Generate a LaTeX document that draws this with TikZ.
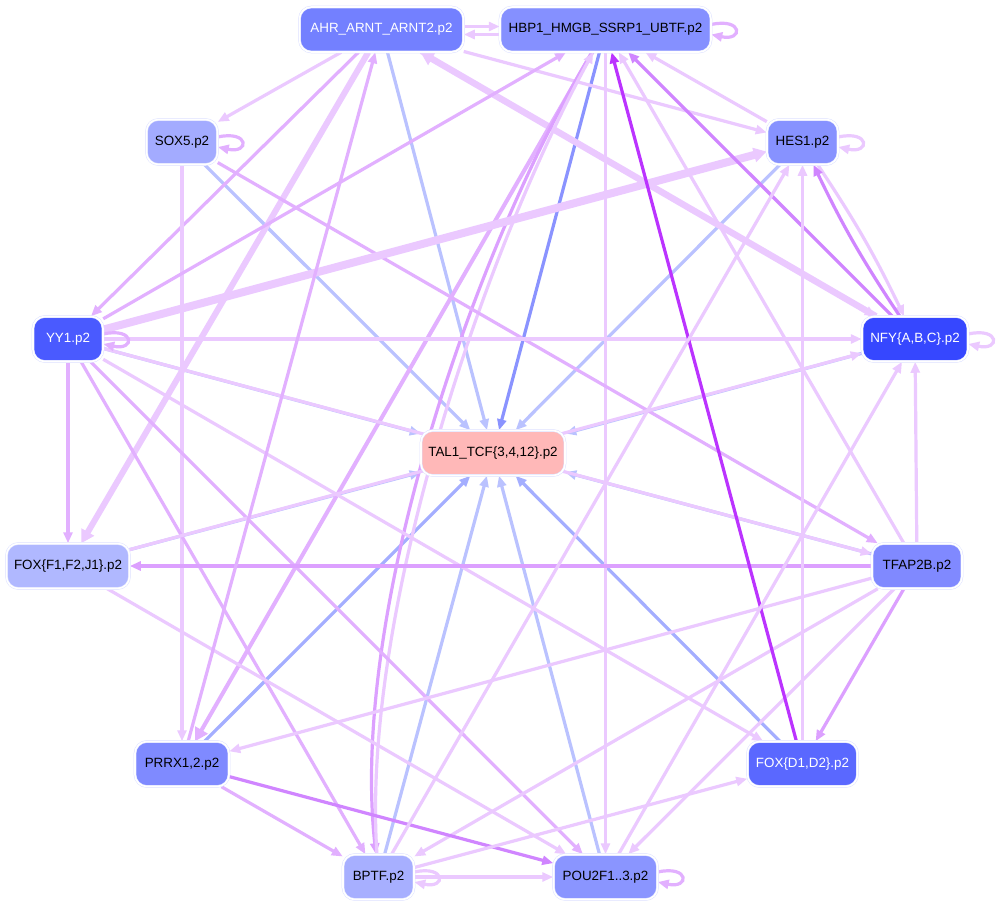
\documentclass[tikz,border=0pt]{standalone}
\usepackage{fontspec}
\setmainfont{Liberation Sans}
\usetikzlibrary{arrows.meta}
\pgfdeclarelayer{bg}
\pgfsetlayers{bg,main}
\definecolor{lt}{HTML}{EBC9FF}
\definecolor{md}{HTML}{E2B0FF}
\definecolor{mdd}{HTML}{DCA0FF}
\definecolor{dk}{HTML}{D085FF}
\definecolor{vdk}{HTML}{BB33FF}
\definecolor{blt}{HTML}{BAC2FF}
\definecolor{bmd}{HTML}{A4AEFF}
\definecolor{bdk}{HTML}{8A93FF}
\definecolor{bd}{HTML}{DDE1FF}
\definecolor{cA}{HTML}{7380FF}
\definecolor{cH}{HTML}{8590FF}
\definecolor{cS}{HTML}{A3ABFF}
\definecolor{cE}{HTML}{8792FF}
\definecolor{cY}{HTML}{4A5AFF}
\definecolor{cN}{HTML}{3647FF}
\definecolor{cT}{HTML}{FFB8B8}
\definecolor{cF}{HTML}{B0B8FF}
\definecolor{cP}{HTML}{8089FF}
\definecolor{cR}{HTML}{7F8AFF}
\definecolor{cD}{HTML}{5A68FF}
\definecolor{cB}{HTML}{A7AFFF}
\definecolor{cU}{HTML}{8A95FF}
\tikzset{
  nd/.style={rectangle, rounded corners=12pt, minimum height=45pt, inner xsep=3pt,
    draw=bd, double=white, double distance=1.6pt, line width=0.5pt,
    font=\fontsize{13.4}{15}\selectfont},
  e/.style={-{Triangle[length=11pt,width=9pt]}, line width=3.2pt},
  th/.style={-{Triangle[length=13pt,width=14pt]}, line width=#1},
}
\begin{document}
\begin{tikzpicture}[x=1pt,y=-1pt]
\useasboundingbox (0,0) rectangle (1001,907);
% nodes
\node[nd, fill=cA, text=white, minimum width=164pt] (A) at (381.5,29.5) {AHR\_ARNT\_ARNT2.p2};
\node[nd, fill=cH, minimum width=211pt] (H) at (605.5,29.5) {HBP1\_HMGB\_SSRP1\_UBTF.p2};
\node[nd, fill=cS, minimum width=71pt] (S) at (182,142) {SOX5.p2};
\node[nd, fill=cE, minimum width=71pt] (E) at (802.5,142) {HES1.p2};
\node[nd, fill=cY, text=white, minimum width=70pt] (Y) at (68,339) {YY1.p2};
\node[nd, fill=cN, text=white, minimum width=106pt] (N) at (915,339) {NFY\{A,B,C\}.p2};
\node[nd, fill=cT, minimum width=144pt] (T) at (493,453) {TAL1\_TCF\{3,4,12\}.p2};
\node[nd, fill=cF, minimum width=123pt] (F) at (68,566) {FOX\{F1,F2,J1\}.p2};
\node[nd, fill=cP, minimum width=90pt] (P) at (917,566) {TFAP2B.p2};
\node[nd, fill=cR, minimum width=94pt] (R) at (182,764) {PRRX1,2.p2};
\node[nd, fill=cD, text=white, minimum width=110pt] (D) at (802.5,764) {FOX\{D1,D2\}.p2};
\node[nd, fill=cB, minimum width=71pt] (B) at (378.5,877) {BPTF.p2};
\node[nd, fill=cU, minimum width=104pt] (U) at (605.5,877) {POU2F1..3.p2};
\begin{pgfonlayer}{bg}
\fill[white] (0,0) rectangle (1001,907);
% into TAL1
\draw[e,blt] (A) -- (T);
\draw[e,bdk] (H) -- (T);
\draw[e,blt] (S) -- (T);
\draw[e,blt] (E) -- (T);
\draw[e,blt] (Y) -- (T);
\draw[e,blt] (N) -- (T);
\draw[e,blt] (F) -- (T);
\draw[e,blt] (P) -- (T);
\draw[e,bmd] (R) -- (T);
\draw[e,bmd] (D) -- (T);
\draw[e,blt] (B) -- (T);
\draw[e,blt] (U) -- (T);
% others
\draw[e,lt] ([yshift=3pt]A.east) -- ([yshift=3pt]H.west);
\draw[e,lt] ([yshift=-5pt]H.west) -- ([yshift=-5pt]A.east);
\draw[e,lt] (A) -- (S);
\draw[e,md] (A) -- (Y);
\draw[th=6pt,lt] (A) -- (F);
\draw[e,lt] (A) -- (E);
\draw[th=6.5pt,lt] (N) -- (A);
\draw[e,lt] (A) -- (N);
\draw[e,lt] (H) -- (U);
\draw[th=4pt,md] (H) -- (R);
\draw[e,mdd] (H) .. controls (468,260) and (350,620) .. (B);
\draw[e,lt] (B) .. controls (361,620) and (480,260) .. (H);
\draw[e,lt] (S) -- (R);
\draw[e,md] (S) -- (P);
\draw[e,lt] (E) -- (H);
\draw[e,lt] (E) to[bend left=4] (N);
\draw[e,dk] (N) to[bend left=4] (E);
\draw[e,md] (Y) -- (H);
\draw[th=8pt,lt] (Y) -- (E);
\draw[e,lt] (Y) -- (N);
\draw[e,lt] (Y) -- (P);
\draw[e,md] (Y) -- (F);
\draw[e,md] (Y) -- (B);
\draw[e,md] (Y) -- (U);
\draw[e,lt] (Y) -- (D);
\draw[e,dk] (N) -- (H);
\draw[e,lt] (F) -- (N);
\draw[e,lt] (F) -- (U);
\draw[e,lt] (P) -- (N);
\draw[e,mdd] (P) -- (F);
\draw[e,lt] (P) -- (R);
\draw[e,lt] (P) -- (B);
\draw[e,lt] (P) -- (U);
\draw[e,mdd] (P) -- (D);
\draw[e,lt] (P) -- (H);
\draw[e,md] (R) -- (A);
\draw[e,dk] (R) -- (U);
\draw[e,md] (R) -- (B);
\draw[e,vdk] (D) -- (H);
\draw[e,lt] (D) -- (E);
\draw[e,lt] (B) -- (D);
\draw[e,lt] (B) -- (U);
\draw[e,lt] (B) -- (E);
\draw[e,lt] (U) -- (N);
% self loops
\draw[e,md] ([yshift=5pt]H.east) .. controls +(32pt,7pt) and +(32pt,-7pt) .. ([yshift=-5pt]H.east);
\draw[e,md] ([yshift=5pt]S.east) .. controls +(32pt,7pt) and +(32pt,-7pt) .. ([yshift=-5pt]S.east);
\draw[e,lt] ([yshift=5pt]E.east) .. controls +(32pt,7pt) and +(32pt,-7pt) .. ([yshift=-5pt]E.east);
\draw[e,md] ([yshift=5pt]Y.east) .. controls +(32pt,7pt) and +(32pt,-7pt) .. ([yshift=-5pt]Y.east);
\draw[e,lt] ([yshift=5pt]N.east) .. controls +(32pt,7pt) and +(32pt,-7pt) .. ([yshift=-5pt]N.east);
\draw[e,lt] ([yshift=5pt]B.east) .. controls +(32pt,7pt) and +(32pt,-7pt) .. ([yshift=-5pt]B.east);
\draw[e,md] ([yshift=5pt]U.east) .. controls +(32pt,7pt) and +(32pt,-7pt) .. ([yshift=-5pt]U.east);
\end{pgfonlayer}
\end{tikzpicture}
\end{document}
